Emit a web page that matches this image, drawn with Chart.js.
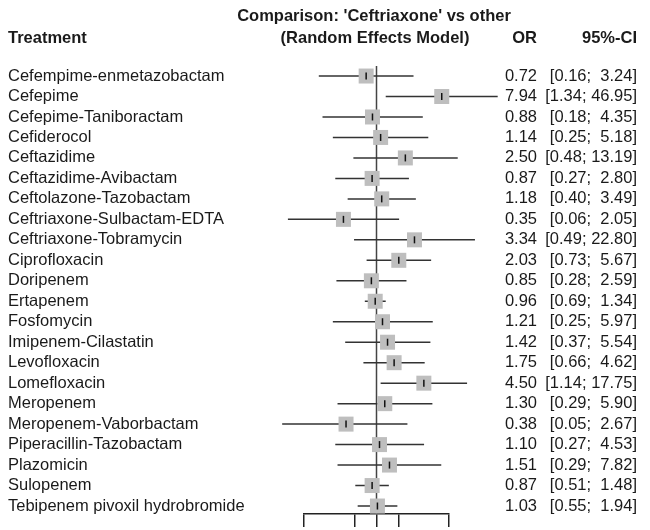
<!DOCTYPE html>
<html lang="en">
<head>
<meta charset="UTF-8">
<title>Comparison: 'Ceftriaxone' vs other</title>
<style>
  body { margin: 0; background: #fff; }
  #forest { display: block; }
</style>
</head>
<body>
<canvas id="forest" width="650" height="530"></canvas>
<script src="https://cdn.jsdelivr.net/npm/chart.js"></script>
<script>
  // treatments, top to bottom
  const treatments = [
    'Cefempime-enmetazobactam', 'Cefepime', 'Cefepime-Taniboractam', 'Cefiderocol',
    'Ceftazidime', 'Ceftazidime-Avibactam', 'Ceftolazone-Tazobactam',
    'Ceftriaxone-Sulbactam-EDTA', 'Ceftriaxone-Tobramycin', 'Ciprofloxacin',
    'Doripenem', 'Ertapenem', 'Fosfomycin', 'Imipenem-Cilastatin', 'Levofloxacin',
    'Lomefloxacin', 'Meropenem', 'Meropenem-Vaborbactam', 'Piperacillin-Tazobactam',
    'Plazomicin', 'Sulopenem', 'Tebipenem pivoxil hydrobromide'
  ];
  const oddsRatio = [0.72, 7.94, 0.88, 1.14, 2.50, 0.87, 1.18, 0.35, 3.34, 2.03, 0.85,
                     0.96, 1.21, 1.42, 1.75, 4.50, 1.30, 0.38, 1.10, 1.51, 0.87, 1.03];
  const ciLower = [0.16, 1.34, 0.18, 0.25, 0.48, 0.27, 0.40, 0.06, 0.49, 0.73, 0.28,
                   0.69, 0.25, 0.37, 0.66, 1.14, 0.29, 0.05, 0.27, 0.29, 0.51, 0.55];
  const ciUpper = [3.24, 46.95, 4.35, 5.18, 13.19, 2.80, 3.49, 2.05, 22.80, 5.67, 2.59,
                   1.34, 5.97, 5.54, 4.62, 17.75, 5.90, 2.67, 4.53, 7.82, 1.48, 1.94];
  const xTicks = [0.1, 0.5, 1, 2, 10];

  const FONT = "'Liberation Sans', Arial, sans-serif";
  const TEXT = '#1a1a1a';
  const yMin = -0.49, yMax = 21.39;

  function ciText(i) {
    let hi = ciUpper[i].toFixed(2);
    if (hi.length < 5) hi = ' ' + hi;
    return '[' + ciLower[i].toFixed(2) + '; ' + hi + ']';
  }

  // header and the OR / CI columns
  const textColumns = {
    id: 'textColumns',
    afterDraw(chart) {
      const ctx = chart.ctx;
      const y = chart.scales.y;
      ctx.save();
      ctx.fillStyle = TEXT;
      ctx.textBaseline = 'middle';

      ctx.font = 'bold 16.5px ' + FONT;
      ctx.textAlign = 'center';
      ctx.fillText("Comparison: 'Ceftriaxone' vs other", 374, 16);
      ctx.fillText('(Random Effects Model)', 375, 38);
      ctx.textAlign = 'left';
      ctx.fillText('Treatment', 8, 38);
      ctx.textAlign = 'right';
      ctx.fillText('OR', 537, 38);
      ctx.fillText('95%-CI', 637, 38);

      ctx.font = '16.5px ' + FONT;
      treatments.forEach((t, i) => {
        const py = y.getPixelForValue(i);
        ctx.fillText(oddsRatio[i].toFixed(2), 537, py);
        ctx.fillText(ciText(i), 637, py);
      });
      ctx.restore();
    }
  };

  // lower "order" is drawn on top
  const ciDatasets = treatments.map((t, i) => ({
    data: [{ x: ciLower[i], y: i }, { x: ciUpper[i], y: i }],
    showLine: true,
    borderColor: '#333',
    borderWidth: 1.5,
    pointRadius: 0,
    clip: false,
    order: 2
  }));

  new Chart(document.getElementById('forest'), {
    type: 'scatter',
    data: {
      datasets: [
        {
          // line of no effect
          data: [{ x: 1, y: yMin }, { x: 1, y: yMax }],
          showLine: true,
          borderColor: '#444',
          borderWidth: 1.5,
          pointRadius: 0,
          clip: false,
          order: 3
        },
        ...ciDatasets,
        {
          data: oddsRatio.map((v, i) => ({ x: v, y: i })),
          pointStyle: 'rect',
          pointRadius: 10.6,
          backgroundColor: '#bebebe',
          borderWidth: 0,
          clip: false,
          order: 1
        },
        {
          data: oddsRatio.map((v, i) => ({ x: v, y: i })),
          pointStyle: 'line',
          pointRotation: 90,
          pointRadius: 3.5,
          borderColor: '#111',
          borderWidth: 1.5,
          clip: false,
          order: 0
        }
      ]
    },
    options: {
      responsive: false,
      animation: false,
      events: [],
      layout: { padding: { top: 66, right: 201, bottom: 0, left: 8 } },
      plugins: { legend: { display: false }, tooltip: { enabled: false } },
      scales: {
        x: {
          type: 'logarithmic',
          min: 0.1,
          max: 10,
          afterBuildTicks: s => { s.ticks = xTicks.map(v => ({ value: v })); },
          afterFit: s => { s.height = 16; },
          ticks: { display: false },
          grid: { drawOnChartArea: false, drawTicks: true, tickLength: 13, color: '#222', lineWidth: 1.5 },
          border: { display: true, color: '#222', width: 1.5 }
        },
        y: {
          type: 'linear',
          reverse: true,
          min: yMin,
          max: yMax,
          afterBuildTicks: s => { s.ticks = treatments.map((t, i) => ({ value: i })); },
          afterFit: s => { s.width = 296; },
          ticks: {
            autoSkip: false,
            crossAlign: 'far',
            padding: 0,
            color: TEXT,
            font: { family: FONT, size: 16.5 },
            callback: v => treatments[v]
          },
          grid: { display: false },
          border: { display: false }
        }
      }
    },
    plugins: [textColumns]
  });
</script>
</body>
</html>
